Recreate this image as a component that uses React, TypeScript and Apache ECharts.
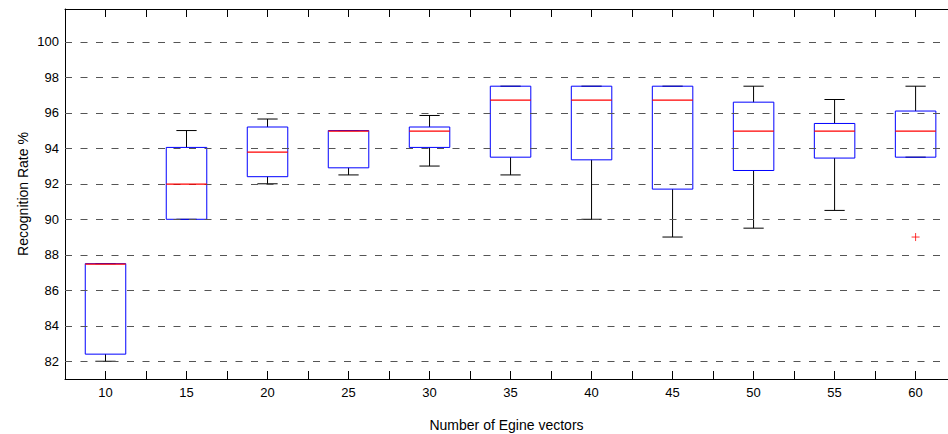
import React, { useEffect, useRef } from "react";
import * as echarts from "echarts";

const categories = [10, 15, 20, 25, 30, 35, 40, 45, 50, 55, 60];
const whiskerLow = [82, 90, 92, 92.5, 93, 92.5, 90, 89, 89.5, 90.5, 93.5];
const q1 = [82.4, 90, 92.4, 92.9, 94.05, 93.5, 93.35, 91.7, 92.75, 93.45, 93.5];
const median = [87.5, 92, 93.8, 95, 95, 96.75, 96.75, 96.75, 95, 95, 95];
const q3 = [87.5, 94.05, 95.2, 95, 95.2, 97.5, 97.5, 97.5, 96.6, 95.4, 96.1];
const whiskerHigh = [87.5, 95, 95.65, 95, 95.85, 97.5, 97.5, 97.5, 97.5, 96.75, 97.5];
const outliers: [number, number][] = [[60, 89]];
const gridValues = [82, 84, 86, 88, 90, 92, 94, 96, 98, 100];

const FONT = "'Liberation Sans', Arial, Helvetica, sans-serif";

export default function App() {
  const ref = useRef<HTMLDivElement>(null);

  useEffect(() => {
    if (!ref.current) return;
    const chart = echarts.init(ref.current, null, { renderer: "svg" });
    const boxData = categories.map((c, i) => [
      c,
      whiskerLow[i],
      q1[i],
      median[i],
      q3[i],
      whiskerHigh[i],
    ]);
    const halfW = 1.25;
    const capW = 0.625;

    const lineEl = (a: number[], b: number[], color: string) => ({
      type: "line",
      shape: { x1: a[0], y1: a[1], x2: b[0], y2: b[1] },
      style: { stroke: color, lineWidth: 1, fill: null },
    });

    const whiskerItem = (params: any, api: any) => {
      const x = api.value(0);
      const lo = api.value(1);
      const b1 = api.value(2);
      const b3 = api.value(4);
      const hi = api.value(5);
      const c = (xx: number, yy: number) => api.coord([xx, yy]);
      const children: any[] = [];
      if (hi > b3) children.push(lineEl(c(x, hi), c(x, b3), "#000000"));
      if (lo < b1) children.push(lineEl(c(x, lo), c(x, b1), "#000000"));
      children.push(lineEl(c(x - capW, hi), c(x + capW, hi), "#000000"));
      children.push(lineEl(c(x - capW, lo), c(x + capW, lo), "#000000"));
      return { type: "group", children };
    };

    const boxItem = (params: any, api: any) => {
      const x = api.value(0);
      const tl = api.coord([x - halfW, api.value(4)]);
      const br = api.coord([x + halfW, api.value(2)]);
      return {
        type: "polyline",
        shape: {
          points: [
            [tl[0], tl[1]],
            [br[0], tl[1]],
            [br[0], br[1]],
            [tl[0], br[1]],
            [tl[0], tl[1]],
          ],
        },
        style: { stroke: "#0000ff", lineWidth: 1, fill: null },
      };
    };

    const medianItem = (params: any, api: any) => {
      const x = api.value(0);
      const a = api.coord([x - halfW, api.value(3)]);
      const b = api.coord([x + halfW, api.value(3)]);
      return {
        type: "rect",
        shape: { x: a[0], y: Math.round(a[1]) - 0.5, width: b[0] - a[0], height: 1.2 },
        style: { fill: "#ff0000", stroke: null, lineWidth: 0 },
      };
    };

    const axisText = { color: "#000", fontSize: 13, fontFamily: FONT };
    const nameText = { color: "#000", fontSize: 14, fontFamily: FONT };

    const customBase = {
      type: "custom",
      xAxisIndex: 0,
      yAxisIndex: 0,
      data: boxData,
      encode: { x: 0, y: [1, 2, 3, 4, 5] },
      silent: true,
    };

    chart.setOption({
      animation: false,
      backgroundColor: "#ffffff",
      grid: {
        left: 65,
        right: 0,
        top: 9,
        bottom: 55,
        containLabel: false,
        outerBoundsMode: "none",
      },
      xAxis: [
        {
          type: "value",
          position: "bottom",
          min: 7.5,
          max: 62,
          interval: 2.5,
          splitLine: { show: false },
          axisLine: { show: true, lineStyle: { color: "#000", width: 1 } },
          axisTick: { show: true, inside: true, length: 8, lineStyle: { color: "#000" } },
          axisLabel: {
            ...axisText,
            margin: 7,
            formatter: (v: number) => (Math.abs(v % 5) < 1e-6 && v >= 10 && v <= 60 ? String(v) : ""),
          },
          name: "Number of Egine vectors",
          nameLocation: "middle",
          nameGap: 39,
          nameMoveOverlap: false,
          nameTextStyle: { ...nameText },
        },
        {
          type: "value",
          position: "top",
          min: 7.5,
          max: 62,
          interval: 2.5,
          splitLine: { show: false },
          axisLine: { show: true, lineStyle: { color: "#000", width: 1 } },
          axisTick: { show: true, inside: true, length: 8, lineStyle: { color: "#000" } },
          axisLabel: { show: false },
        },
      ],
      yAxis: [
        {
          type: "value",
          position: "left",
          min: 81,
          max: 101.85,
          interval: 1,
          splitLine: { show: false },
          axisLine: { show: true, lineStyle: { color: "#000", width: 1 } },
          axisTick: { show: false },
          axisLabel: {
            ...axisText,
            margin: 6,
            formatter: (v: number) => (Math.abs(v % 2) < 1e-6 && v >= 82 && v <= 100 ? String(v) : ""),
          },
          name: "Recognition Rate %",
          nameLocation: "middle",
          nameGap: 35,
          nameMoveOverlap: false,
          nameTextStyle: { ...nameText },
        },
        {
          type: "value",
          position: "right",
          min: 81,
          max: 101.85,
          interval: 1,
          splitLine: { show: false },
          axisLine: { show: true, lineStyle: { color: "#000", width: 1 } },
          axisTick: { show: false },
          axisLabel: { show: false },
        },
      ],
      series: [
        {
          type: "line",
          xAxisIndex: 0,
          yAxisIndex: 0,
          data: [],
          z: 1,
          silent: true,
          markLine: {
            silent: true,
            symbol: "none",
            label: { show: false },
            lineStyle: { color: "#555", width: 1.2, type: [7, 8.5] },
            emphasis: { disabled: true },
            data: gridValues.map((v) => ({ yAxis: v })),
          },
        },
        { ...customBase, renderItem: whiskerItem, z: 3 },
        { ...customBase, renderItem: boxItem, z: 4 },
        { ...customBase, renderItem: medianItem, z: 5 },
        {
          type: "scatter",
          xAxisIndex: 0,
          yAxisIndex: 0,
          data: outliers,
          symbol: "path://M0,5L10,5M5,0L5,10",
          symbolSize: 8,
          itemStyle: { color: "rgba(0,0,0,0)", borderColor: "#ff0000", borderWidth: 1 },
          z: 6,
        },
      ],
    });
    return () => chart.dispose();
  }, []);

  return (
    <div
      ref={ref}
      style={{ position: "fixed", left: 0, top: 0, width: 948, height: 434, background: "#fff" }}
    />
  );
}
